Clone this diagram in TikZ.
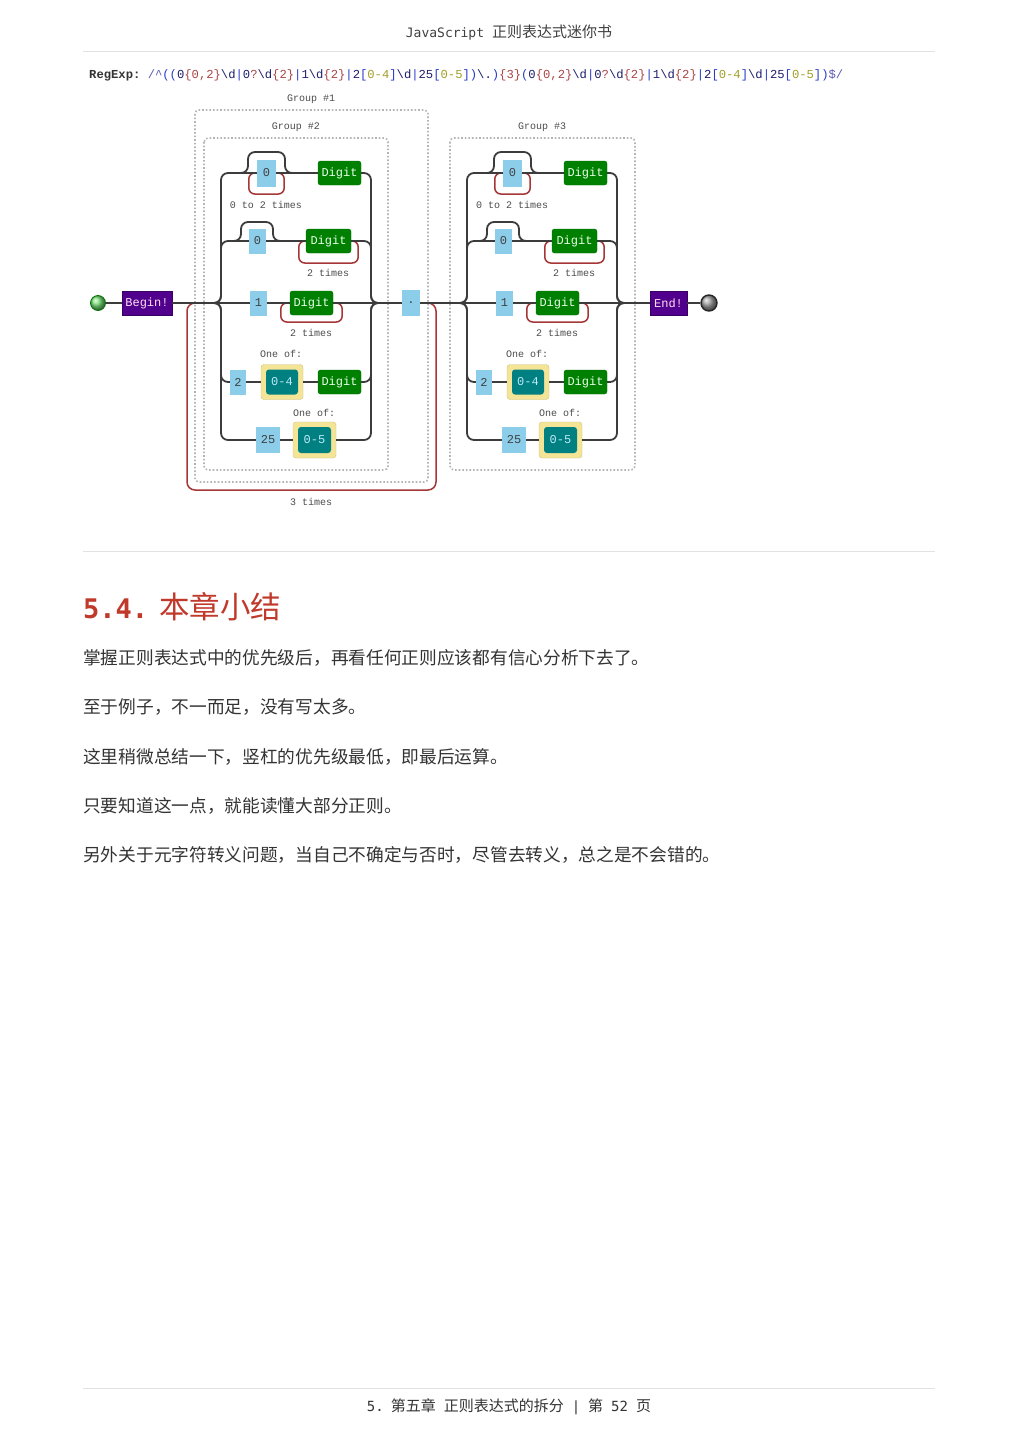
\documentclass[tikz,border=0pt]{standalone}
\usepackage{fontspec}
\setmainfont{Liberation Serif}
\setmonofont{Liberation Mono}
\newfontfamily\cjk{Noto Sans CJK SC}
\newfontfamily\hdmono{DejaVu Sans Mono}
\usetikzlibrary{calc}
\definecolor{litblue}{RGB}{140,206,234}
\definecolor{dgreen}{RGB}{0,128,0}
\definecolor{indigoc}{RGB}{80,0,140}
\definecolor{khakiy}{RGB}{244,228,150}
\definecolor{tealc}{RGB}{0,128,128}
\definecolor{repred}{RGB}{165,55,55}
\definecolor{railc}{RGB}{60,60,60}
\definecolor{grpgray}{RGB}{180,180,180}
\definecolor{rulegray}{RGB}{226,226,226}
\definecolor{headred}{RGB}{192,57,43}
\definecolor{bodyc}{RGB}{51,51,51}
\definecolor{startg}{RGB}{120,225,120}
\definecolor{rxbr}{RGB}{40,60,200}
\definecolor{rxlit}{RGB}{30,30,110}
\definecolor{rxq}{RGB}{170,70,70}
\definecolor{rxcl}{RGB}{160,160,40}
\definecolor{rxsl}{RGB}{90,90,180}
\newcommand\rxB[1]{\textcolor{rxbr}{#1}}
\newcommand\rxL[1]{\textcolor{rxlit}{#1}}
\newcommand\rxQ[1]{\textcolor{rxq}{#1}}
\newcommand\rxC[1]{\textcolor{rxcl}{#1}}
\newcommand\rxS[1]{\textcolor{rxsl}{#1}}
\newcommand\rxAlt{\rxL{0}\rxQ{\{0,2\}}\rxL{\textbackslash d}\rxB{|}\rxL{0}\rxQ{?}\rxL{\textbackslash d}\rxQ{\{2\}}\rxB{|}\rxL{1\textbackslash d}\rxQ{\{2\}}\rxB{|}\rxL{2}\rxB{[}\rxC{0-4}\rxB{]}\rxL{\textbackslash d}\rxB{|}\rxL{25}\rxB{[}\rxC{0-5}\rxB{]}}
\tikzset{
  rail/.style={draw=railc, line width=1.8pt, rounded corners=7pt},
  rep/.style={draw=repred, line width=1.5pt, rounded corners=6pt},
  dgfont/.style={font=\fontsize{12}{14}\ttfamily},
  lit/.style={fill=litblue, inner sep=0pt, text=black!75, dgfont},
  digit/.style={fill=dgreen, draw=green!45!black, line width=0.4pt, rounded corners=2.5pt, inner sep=0pt, text=green!8!white, dgfont},
  term/.style={fill=indigoc, draw=indigoc!70!black, line width=0.4pt, inner sep=0pt, text=magenta!12!white, dgfont},
  clsout/.style={fill=khakiy, draw=khakiy!85!black, line width=0.4pt, rounded corners=3pt, inner sep=0pt},
  clsin/.style={fill=tealc, rounded corners=3pt, inner sep=0pt, text=cyan!25!white, dgfont},
  grp/.style={draw=grpgray, dotted, line width=1.6pt, rounded corners=4pt},
  lbl/.style={font=\fontsize{10}{12}\ttfamily, text=black!70, inner sep=0pt},
  body/.style={font=\fontsize{17.7}{21}\cjk, text=bodyc, inner sep=0pt, anchor=west},
}
\newcommand\altblock[2]{%
\begin{scope}[xshift=#2]
\coordinate (gin#1) at (200,303);
\coordinate (gout#1) at (385,303);
% row 1
\node[lit, minimum width=19, minimum height=27] (za#1) at (266.5,173) {0};
\node[digit, minimum width=43, minimum height=24] (da#1) at (339.5,173) {Digit};
\node[lbl] (ta#1) at (266,205) {0 to 2 times};
% row 2
\node[lit, minimum width=17, minimum height=25] (zb#1) at (257.5,241) {0};
\node[digit, minimum width=45, minimum height=24] (db#1) at (328.5,241) {Digit};
\node[lbl] (tb#1) at (328,273) {2 times};
% row 3
\node[lit, minimum width=17, minimum height=25] (zc#1) at (258.5,303) {1};
\node[digit, minimum width=43, minimum height=24] (dc#1) at (311.5,303) {Digit};
\node[lbl] (tc#1) at (311,333) {2 times};
% row 4
\node[lbl] (od#1) at (281,354) {One of:};
\node[lit, minimum width=16, minimum height=25] (zd#1) at (238,382) {2};
\node[clsout, minimum width=42, minimum height=35] (yd#1) at (282,382) {};
\node[clsin, minimum width=32, minimum height=25] (cd#1) at (282,382) {0-4};
\node[digit, minimum width=43, minimum height=24] (dd#1) at (339.5,382) {Digit};
% row 5
\node[lbl] (oe#1) at (314,413) {One of:};
\node[lit, minimum width=24, minimum height=26] (ze#1) at (268,440) {25};
\node[clsout, minimum width=43, minimum height=36] (ye#1) at (314.5,440) {};
\node[clsin, minimum width=33, minimum height=26] (ce#1) at (314.5,440) {0-5};
% repeat loops
\draw[rep] (za#1.east) -- ++(8,0) -- ++(0,21) -| ([xshift=-8]za#1.west) -- (za#1.west);
\draw[rep] (db#1.east) -- ++(7,0) -- ++(0,22) -| ([xshift=-7]db#1.west) -- (db#1.west);
\draw[rep] (dc#1.east) -- ++(9,0) -- ++(0,19) -| ([xshift=-9]dc#1.west) -- (dc#1.west);
% rails
\draw[rail] (gin#1) -- (221,303) |- (za#1.west);
\draw[rail] (za#1.east) -- (da#1.west);
\draw[rail] (238,173) -- (248,173) -- (248,152) -- (285,152) -- (285,173) -- (295,173);
\draw[rail] (da#1.east) -| (371,303) -- (gout#1);
\draw[rail] (gin#1) -- (221,303) |- (zb#1.west);
\draw[rail] (zb#1.east) -- (db#1.west);
\draw[rail] (231,241) -- (241,241) -- (241,222) -- (273,222) -- (273,241) -- (283,241);
\draw[rail] (db#1.east) -| (371,303) -- (gout#1);
\draw[rail] (gin#1) -- (zc#1.west);
\draw[rail] (zc#1.east) -- (dc#1.west);
\draw[rail] (dc#1.east) -- (gout#1);
\draw[rail] (gin#1) -- (221,303) |- (zd#1.west);
\draw[rail] (zd#1.east) -- (yd#1.west);
\draw[rail] (yd#1.east) -- (dd#1.west);
\draw[rail] (dd#1.east) -| (371,303) -- (gout#1);
\draw[rail] (gin#1) -- (221,303) |- (ze#1.west);
\draw[rail] (ze#1.east) -- (ye#1.west);
\draw[rail] (ye#1.east) -| (371,303) -- (gout#1);
\end{scope}}
\begin{document}
\begin{tikzpicture}[x=1pt,y=-1pt]
\useasboundingbox (0,0) rectangle (1019,1440);
\fill[white] (0,0) rectangle (1019,1440);
% header
\node[inner sep=0pt, text=black!75] (hd) at (509,33) {{\fontsize{13}{15}\hdmono JavaScript}\hspace{8pt}{\fontsize{15}{17}\cjk 正则表达式迷你书}};
\draw[rulegray, line width=1pt] (83,51) -- (935,51);
% regex
\node[anchor=west, inner sep=0pt, font=\fontsize{12.2}{14}\ttfamily] (rx) at (89,75) {\textcolor{black!80}{\textbf{RegExp:}}~\rxS{/\textasciicircum}\rxB{((}\rxAlt\rxB{)}\rxL{\textbackslash.}\rxB{)}\rxQ{\{3\}}\rxB{(}\rxAlt\rxB{)}\rxS{\$/}};
% groups
\draw[grp] (195,110) rectangle (428,482);
\draw[grp] (204,138) rectangle (388,470);
\draw[grp] (450,138) rectangle (635,470);
\node[lbl] (g1) at (311,99) {Group \#1};
\node[lbl] (g2) at (296,127) {Group \#2};
\node[lbl] (g3) at (542,127) {Group \#3};
% 3 times loop
\coordinate (lpa) at (424,303);
\coordinate (lpb) at (199,303);
\draw[rep, rounded corners=8pt] (lpa) -- (436,303) -- (436,490) -- (187,490) -- (187,303) -- (lpb);
\node[lbl] (t3) at (311,502) {3 times};
% alternatives
\altblock{a}{0}
\altblock{b}{246}
% terminals
\node[circle, minimum size=15, inner sep=0pt, ball color=startg, draw=green!45!black, line width=0.8pt] (st) at (98,303) {};
\node[term, minimum width=50, minimum height=24] (bg) at (147,303) {Begin!};
\node[lit, minimum width=18, minimum height=26] (dot) at (411,303) {.};
\node[term, minimum width=37, minimum height=24] (en) at (668.5,303) {End!};
\node[circle, minimum size=16, inner sep=0pt, ball color=gray!75, draw=black!85, line width=1.4pt] (ed) at (709,303) {};
\draw[rail] (st) -- (bg);
\draw[rail] (bg.east) -- (gina);
\draw[rail] (gouta) -- (dot.west);
\draw[rail] (dot.east) -- (ginb);
\draw[rail] (goutb) -- (en.west);
\draw[rail] (en.east) -- (ed);
\draw[rulegray, line width=1pt] (83,551) -- (935,551);
% section heading
\node[anchor=west, inner sep=0pt, text=headred] (h54) at (83,607) {{\fontsize{27}{30}\hdmono\bfseries 5.4.}\hspace{11pt}{\fontsize{30.5}{34}\cjk 本章小结}};
% body
\node[body] (p1) at (83,658) {掌握正则表达式中的优先级后，再看任何正则应该都有信心分析下去了。};
\node[body] (p2) at (83,707) {至于例子，不一而足，没有写太多。};
\node[body] (p3) at (83,757) {这里稍微总结一下，竖杠的优先级最低，即最后运算。};
\node[body] (p4) at (83,806) {只要知道这一点，就能读懂大部分正则。};
\node[body] (p5) at (83,855) {另外关于元字符转义问题，当自己不确定与否时，尽管去转义，总之是不会错的。};
% footer
\draw[rulegray, line width=1pt] (83,1388) -- (935,1388);
\node[inner sep=0pt, text=black!80] (ft) at (509,1407) {{\fontsize{14}{17}\hdmono 5.}\hspace{7pt}{\fontsize{15}{17}\cjk 第五章}\hspace{8pt}{\fontsize{15}{17}\cjk 正则表达式的拆分}\hspace{8pt}{\fontsize{14}{17}\hdmono |}\hspace{8pt}{\fontsize{15}{17}\cjk 第}\hspace{8pt}{\fontsize{14}{17}\hdmono 52}\hspace{8pt}{\fontsize{15}{17}\cjk 页}};
\end{tikzpicture}
\end{document}
